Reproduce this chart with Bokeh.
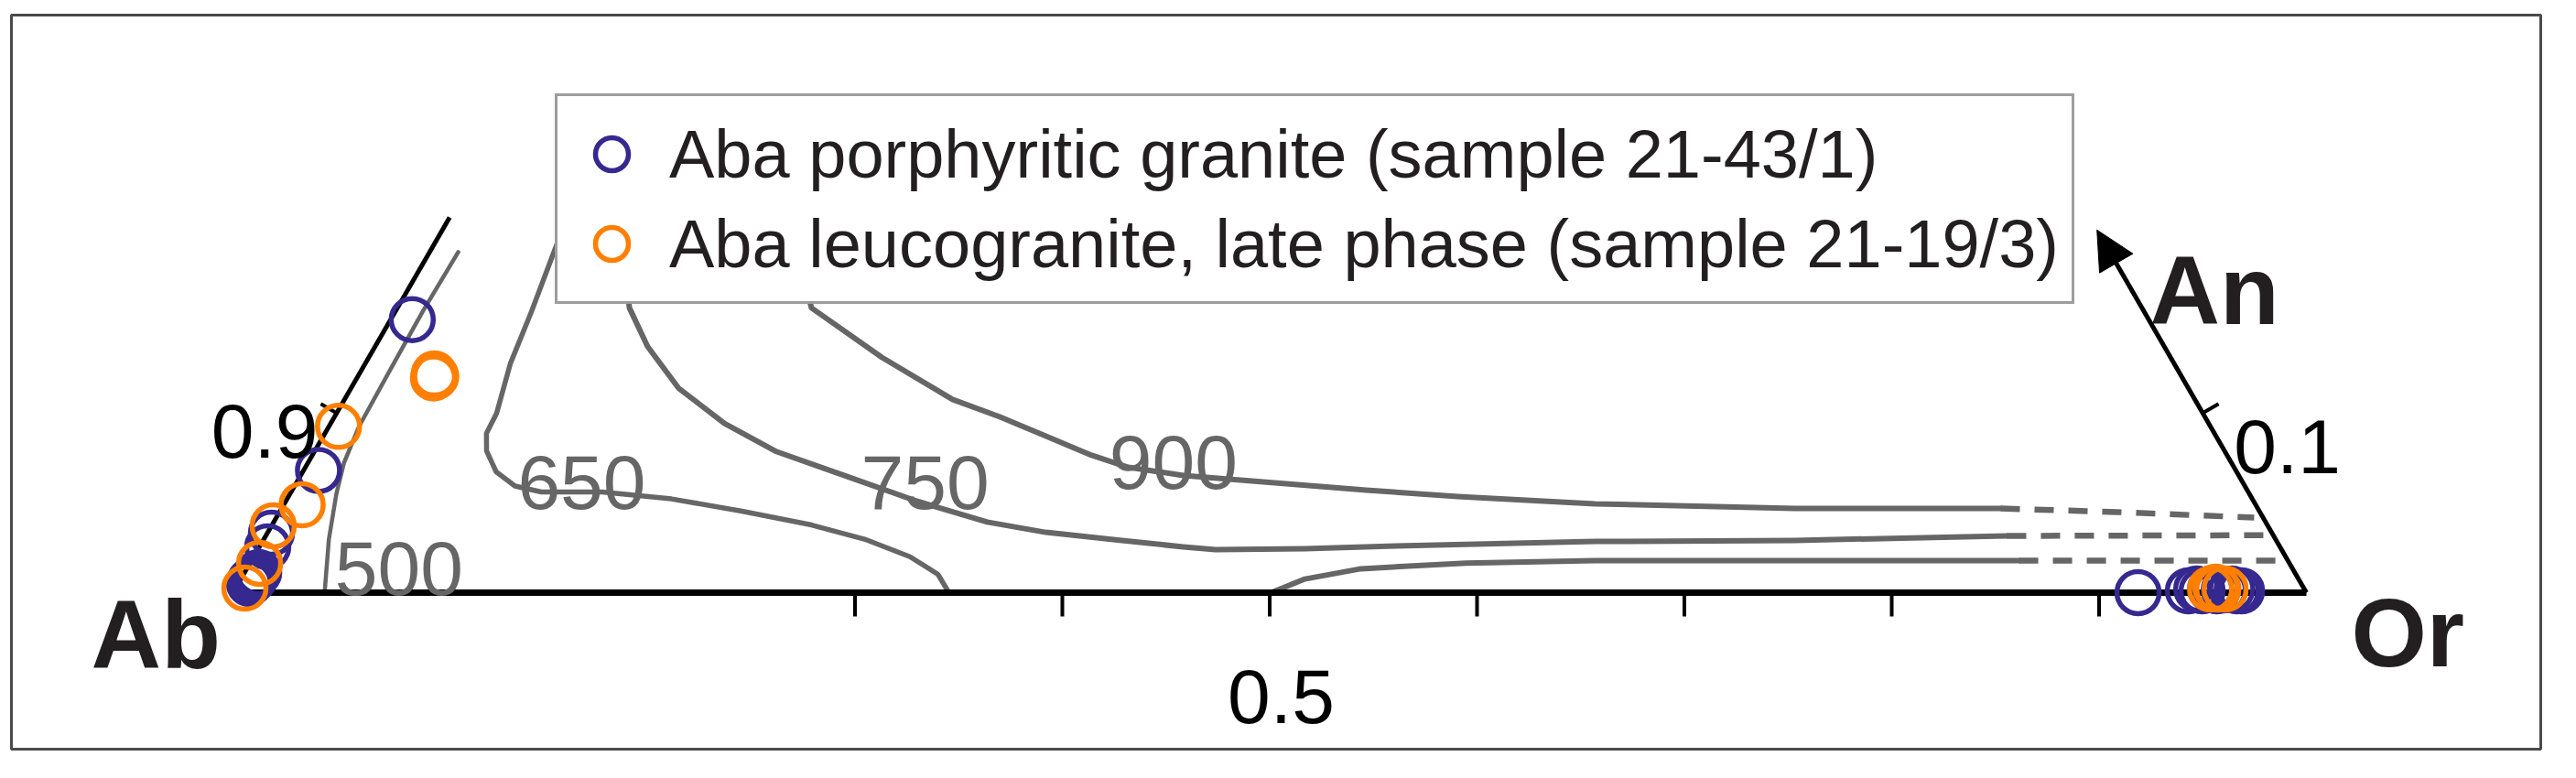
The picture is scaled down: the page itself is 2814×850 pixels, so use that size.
import numpy as np
from bokeh.plotting import figure
from bokeh.models import Range1d, Arrow, NormalHead, Legend, LegendItem, ColumnDataSource
from bokeh.core.properties import value
from bokeh.embed import file_html
from bokeh.resources import INLINE

# ---------------- data (mole fractions of Or and An; Ab = 1 - Or - An) ----------------
blue_or = [0.0104, 0.0072, 0.0020, 0.0040, 0.0068, 0.0064, 0.0054, 0.0060, 0.0050,
           0.9188, 0.9426, 0.9461, 0.9492, 0.9528, 0.9563, 0.9596, 0.9630, 0.9660, 0.9682]
blue_an = [0.1521, 0.0681, 0.0331, 0.0255, 0.0112, 0.0076, 0.0051, 0.0095, 0.0065,
           0.0000, 0.0010, 0.0020, 0.0010, 0.0020, 0.0010, 0.0015, 0.0020, 0.0010, 0.0010]
orange_or = [0.0362, 0.0376, 0.0369, 0.0046, 0.0089, 0.0008, 0.0047, 0.0045,
             0.9528, 0.9548, 0.9563, 0.9598]
orange_an = [0.1218, 0.1204, 0.1196, 0.0926, 0.0489, 0.0372, 0.0163, 0.0025,
             0.0020, 0.0030, 0.0020, 0.0020]

iso500_or = [0.0442, 0.0314, 0.0223, 0.0174, 0.0145, 0.0138, 0.0132, 0.0138]
iso500_an = [0.0000, 0.0297, 0.0552, 0.0722, 0.0928, 0.1234, 0.1572, 0.1897]

iso650_or = [0.0509, 0.0570, 0.0603, 0.0657, 0.0700, 0.0772, 0.0779, 0.0828, 0.0933, 0.1063,
             0.1207, 0.1499, 0.1854, 0.2228, 0.2602, 0.2897, 0.3165, 0.3349, 0.3453]
iso650_an = [0.2320, 0.2065, 0.1876, 0.1565, 0.1275, 0.0999, 0.0887, 0.0790, 0.0673, 0.0594,
             0.0561, 0.0561, 0.0522, 0.0454, 0.0377, 0.0298, 0.0200, 0.0102, 0.0000]

iso750_or = [0.0835, 0.1119, 0.1314, 0.1582, 0.1899, 0.2230, 0.2639, 0.3043, 0.3442, 0.3752,
             0.4142, 0.4455, 0.4618, 0.5048, 0.5477, 0.6427, 0.7387, 0.8398]
iso750_an = [0.2065, 0.1586, 0.1371, 0.1137, 0.0943, 0.0785, 0.0647, 0.0510, 0.0393, 0.0336,
             0.0291, 0.0255, 0.0240, 0.0245, 0.0260, 0.0285, 0.0291, 0.0316]
iso750_ext_or = [0.8398, 0.9670]
iso750_ext_an = [0.0316, 0.0320]

iso900_or = [0.1652, 0.1997, 0.2475, 0.2932, 0.3210, 0.3485, 0.3759, 0.3969, 0.4257, 0.4718,
             0.5180, 0.5640, 0.6322, 0.7298, 0.8291]
iso900_an = [0.2065, 0.1586, 0.1310, 0.1076, 0.0979, 0.0872, 0.0765, 0.0698, 0.0653, 0.0612,
             0.0571, 0.0535, 0.0495, 0.0469, 0.0469]
iso900_ext_or = [0.8291, 0.8862, 0.9539]
iso900_ext_an = [0.0469, 0.0449, 0.0418]

kfs_or = [0.5007, 0.5132, 0.5373, 0.5865, 0.6480, 0.7540, 0.8525]
kfs_an = [0.0000, 0.0076, 0.0133, 0.0165, 0.0178, 0.0178, 0.0178]
kfs_ext_or = [0.8525, 0.9774]
kfs_ext_an = [0.0178, 0.0178]

bottom_ticks = [0.3, 0.4, 0.5, 0.6, 0.7, 0.8, 0.9]
series_labels = ["Aba porphyritic granite (sample 21-43/1)",
                 "Aba leucogranite, late phase (sample 21-19/3)"]
isotherm_labels = ["650", "750", "900", "500"]
axis_value_labels = ["0.9", "0.1", "0.5"]
apex_labels = ["Ab", "Or", "An"]

# ---------------- helpers ----------------
H3 = np.sqrt(3) / 2


def tern(or_, an):
    or_ = np.asarray(or_, float)
    an = np.asarray(an, float)
    return or_ + an / 2, an * H3


# ---------------- layout ----------------
W, H = 2798, 834
SIDE = 2265.0          # px per unit side
OX, OY = 254.0, 647.0  # Ab vertex in figure px
FL, FR, FT, FB = 12, 23, 16, 16
x_start = (FL - OX) / SIDE
x_end = (W - FR - OX) / SIDE
y_start = (OY - (H - FB)) / SIDE
y_end = (OY - FT) / SIDE

BLUE = "#35288f"
ORANGE = "#ff7f00"
GRAY = "#666666"
DARK = "#231f20"
FONT = "Liberation Sans"

p = figure(width=W, height=H, output_backend="svg", toolbar_location=None,
           x_range=Range1d(x_start, x_end), y_range=Range1d(y_start, y_end),
           x_axis_location=None, y_axis_location=None,
           min_border_left=FL, min_border_right=FR, min_border_top=FT, min_border_bottom=FB)
p.xgrid.visible = False
p.ygrid.visible = False
p.outline_line_color = "#4a4a4a"
p.outline_line_width = 3
p.background_fill_color = "white"
p.border_fill_color = "white"

# isotherms
for o, a, lw in [(iso500_or, iso500_an, 4.5), (iso650_or, iso650_an, 5.5),
                 (iso750_or, iso750_an, 6), (iso900_or, iso900_an, 6),
                 (kfs_or, kfs_an, 6)]:
    x, y = tern(o, a)
    p.line(x, y, line_color=GRAY, line_width=lw, line_join="round", line_cap="round")
for o, a in [(iso750_ext_or, iso750_ext_an), (iso900_ext_or, iso900_ext_an),
             (kfs_ext_or, kfs_ext_an)]:
    x, y = tern(o, a)
    p.line(x, y, line_color=GRAY, line_width=6.5, line_dash="21 16")

# triangle edges
bx, by = tern([0, 1], [0, 0])
p.line(bx, by, line_color="black", line_width=7)
lx, ly = tern([0, 0], [0, 0.209])
p.line(lx, ly, line_color="black", line_width=5)
ax0, ay0 = tern(1, 0)
ax1, ay1 = tern(1 - 0.202, 0.202)
p.add_layout(Arrow(end=NormalHead(size=42, fill_color="black", line_color="black", line_width=1),
                   x_start=float(ax0), y_start=float(ay0), x_end=float(ax1), y_end=float(ay1),
                   line_color="black", line_width=5))

# ticks
tx, ty = tern(bottom_ticks, [0] * len(bottom_ticks))
tick_len = 26 / SIDE
p.segment(tx, ty, tx, ty - tick_len, line_color="black", line_width=4)
# An = 0.1 ticks on the two side edges (outward normals)
lx0, ly0 = tern(0, 0.1)
rx0, ry0 = tern(0.9, 0.1)
sl = 20 / SIDE
p.segment([float(lx0), float(rx0)], [float(ly0), float(ry0)],
          [float(lx0) - sl * H3, float(rx0) + sl * H3],
          [float(ly0) + sl * 0.5, float(ry0) + sl * 0.5],
          line_color="black", line_width=4)

# points
bxp, byp = tern(blue_or, blue_an)
oxp, oyp = tern(orange_or, orange_an)
r_blue = p.scatter(bxp, byp, marker="circle", size=46, fill_color=None,
                   line_color=BLUE, line_width=5.5)
r_orange = p.scatter(oxp, oyp, marker="circle", size=46, fill_color=None,
                     line_color=ORANGE, line_width=5.5)

# labels
iso_src = ColumnDataSource(dict(x=[0.1682, 0.3338, 0.4536, 0.0801],
                                y=[0.0534, 0.0534, 0.0627, 0.0119],
                                t=isotherm_labels))
p.text(x="x", y="y", text="t", source=iso_src, text_font=value(FONT),
       text_font_size=value("84px"), text_color=GRAY, text_align="center",
       text_baseline="alphabetic")
p.text(x=[0.0411], y=[0.0781], text=[axis_value_labels[0]], text_font=value(FONT),
       text_font_size=value("84px"), text_color="black", text_align="right",
       text_baseline="alphabetic")
p.text(x=[0.9650], y=[0.0706], text=[axis_value_labels[1]], text_font=value(FONT),
       text_font_size=value("84px"), text_color="black", text_align="left",
       text_baseline="alphabetic")
p.text(x=[0.5055], y=[-0.0499], text=[axis_value_labels[2]], text_font=value(FONT),
       text_font_size=value("84px"), text_color="black", text_align="center",
       text_baseline="alphabetic")
p.text(x=[-0.0060], y=[-0.0199], text=[apex_labels[0]], text_font=value(FONT),
       text_font_style="bold", text_font_size=value("106px"), text_color=DARK,
       text_align="right", text_baseline="alphabetic")
p.text(x=[1.0216, 0.9245], y=[-0.0190, 0.1457], text=apex_labels[1:], text_font=value(FONT),
       text_font_style="bold", text_font_size=value("106px"), text_color=DARK,
       text_align="left", text_baseline="alphabetic")

legend = Legend(items=[LegendItem(label=series_labels[0], renderers=[r_blue]),
                       LegendItem(label=series_labels[1], renderers=[r_orange])],
                location=(594, 486), orientation="vertical",
                padding=14, spacing=0, margin=0,
                glyph_width=90, glyph_height=98, label_standoff=18,
                label_text_font=FONT, label_text_font_size="74px",
                label_text_color=DARK,
                border_line_color="#3c3c3c", border_line_width=3,
                background_fill_color="white", background_fill_alpha=1.0)
p.add_layout(legend, "center")

open("out.html", "w").write(file_html(p, INLINE))
